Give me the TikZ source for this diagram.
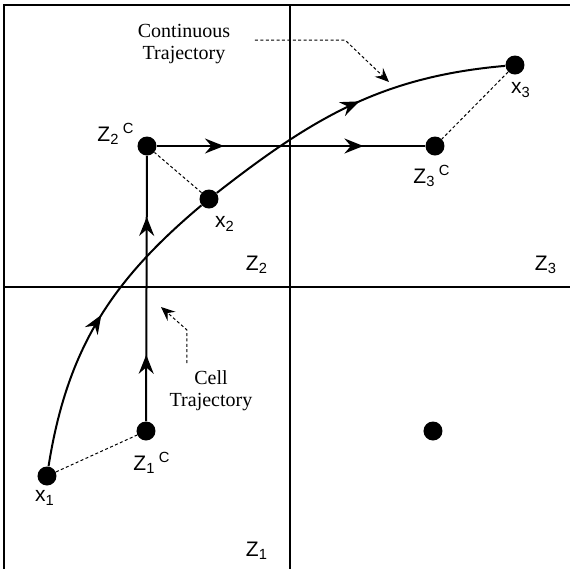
\documentclass[tikz,border=0pt]{standalone}
\usepackage{fontspec}
\setmainfont{Liberation Serif}
\newfontfamily\lblfont{Liberation Sans}
\usetikzlibrary{arrows.meta,decorations.markings}

\tikzset{
  vhead/.tip={Stealth[length=9.5pt,width=7.5pt,inset=3.2pt]},
  phead/.tip={Stealth[length=7pt,width=6pt,inset=2.5pt]},
  dot/.style={circle, fill=black, inner sep=0pt, minimum size=9.5pt},
  lbl/.style={font=\lblfont\fontsize{10.5}{12}\selectfont, inner sep=0pt},
  note/.style={align=center, font=\fontsize{10}{11}\selectfont, inner sep=0pt},
  gridline/.style={line width=1pt},
  traj/.style={line width=1pt},
  onearrow/.style={decoration={markings, mark=at position #1 with {\arrow{vhead}}},
    postaction={decorate}},
  twoarrows/.style={decoration={markings,
      mark=at position 0.25 with {\arrow{vhead}},
      mark=at position 0.77 with {\arrow{vhead}}},
    postaction={decorate}},
  nearest/.style={line width=0.5pt, dash pattern=on 1.5pt off 1.2pt},
  pointer/.style={line width=0.5pt, dash pattern=on 1.5pt off 1.2pt, -phead},
}

\begin{document}
\begin{tikzpicture}[x=0.5pt, y=-0.5pt]
    \useasboundingbox (0,0) rectangle (570,569);
    % cells
    \draw[gridline] (4,569) -- (4,5) -- (570,5);
    \draw[gridline] (4,287) -- (570,287);
    \draw[gridline] (290,5) -- (290,569);
    % points
    \node[dot] (x1) at (47,476) {};
    \node[dot] (x2) at (209,199) {};
    \node[dot] (x3) at (515,65) {};
    \node[dot] (z1c) at (146,431) {};
    \node[dot] (z2c) at (147,146) {};
    \node[dot] (z3c) at (435,146) {};
    \node[dot] (z4c) at (433,431) {};
    % labels
    \node[lbl] (x1lbl) at (45,498) {x\textsubscript{1}};
    \node[lbl] (x2lbl) at (225,224) {x\textsubscript{2}};
    \node[lbl] (x3lbl) at (521,90) {x\textsubscript{3}};
    \node[lbl] (z1clbl) at (152,463) {Z\textsubscript{1}\,\textsuperscript{C}};
    \node[lbl] (z2clbl) at (116,134) {Z\textsubscript{2}\,\textsuperscript{C}};
    \node[lbl] (z3clbl) at (432,176) {Z\textsubscript{3}\,\textsuperscript{C}};
    \node[lbl] (z1lbl) at (257,551) {Z\textsubscript{1}};
    \node[lbl] (z2lbl) at (257,265) {Z\textsubscript{2}};
    \node[lbl] (z3lbl) at (546,265) {Z\textsubscript{3}};
    % continuous trajectory
    \draw[traj, onearrow=0.52] (x1) to[out=81, in=220] (x2);
    \draw[traj, onearrow=0.53] (x2) to[out=38, in=185] (x3);
    % cell trajectory
    \draw[traj, twoarrows] (z1c) -- (z2c);
    \draw[traj, twoarrows] (z2c) -- (z3c);
    % nearest cell centres
    \draw[nearest] (x1) -- (z1c);
    \draw[nearest] (x2) -- (z2c);
    \draw[nearest] (x3) -- (z3c);
    % notes
    \node[note] (contnote) at (184,44) {Continuous\\Trajectory};
    \node[note] (cellnote) at (211,391) {Cell\\Trajectory};
    \coordinate (cstart) at (255,40);
    \coordinate (cbend) at (345,40);
    \coordinate (ctip) at (389,82);
    \draw[pointer] (cstart) -- (cbend) -- (ctip);
    \coordinate (lstart) at (187,363);
    \coordinate (lbend) at (187,330);
    \coordinate (ltip) at (161,307);
    \draw[pointer] (lstart) -- (lbend) -- (ltip);
\end{tikzpicture}
\end{document}
